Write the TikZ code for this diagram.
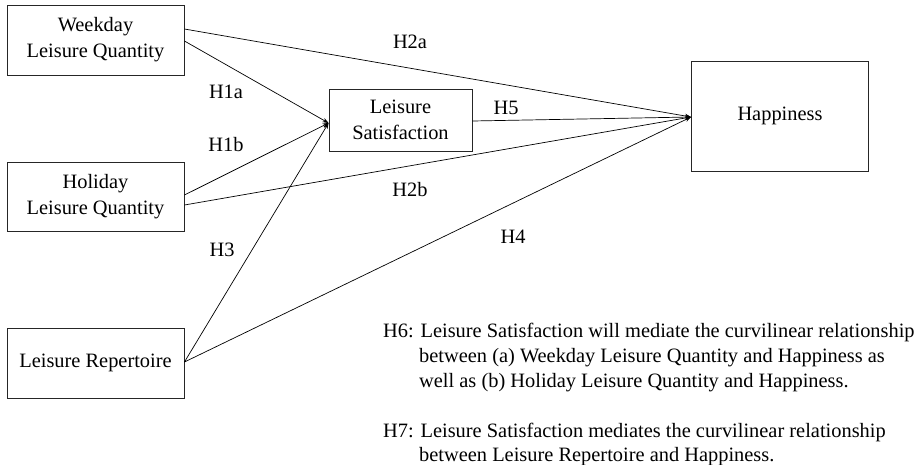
\documentclass[tikz,border=0pt]{standalone}
\usepackage{fontspec}
\setmainfont{Liberation Serif}
\usetikzlibrary{arrows.meta}
\begin{document}
\begin{tikzpicture}[x=1pt,y=-1pt,
  box/.style={draw=black!85,line width=0.9pt,align=center,inner sep=0pt,font=\fontsize{20.4}{26}\selectfont},
  link/.style={line width=0.7pt,-{Stealth[length=6pt,width=4.5pt]}},
  lab/.style={font=\fontsize{20.4}{24}\selectfont,inner sep=0pt},
  txt/.style={font=\fontsize{20.4}{24}\selectfont,inner sep=0pt,anchor=base west}]
\useasboundingbox (0,0) rectangle (924,464);
\node[box,minimum width=177pt,minimum height=70pt] (wk) at (95.5,40) {Weekday\\Leisure Quantity};
\node[box,minimum width=177pt,minimum height=69pt] (hol) at (95.5,196.5) {Holiday\\Leisure Quantity};
\node[box,minimum width=177pt,minimum height=70pt] (rep) at (95.5,363) {Leisure Repertoire};
\node[box,minimum width=143pt,minimum height=62pt] (ls) at (400.5,120) {Leisure\\Satisfaction};
\node[box,minimum width=177pt,minimum height=110pt] (hap) at (780,116) {Happiness};
\coordinate (lsin) at ([yshift=-3pt]ls.west);
\coordinate (hapin) at ([yshift=-1pt]hap.west);
\draw[link] ([yshift=11pt]wk.east) -- (hapin);
\draw[link] ([yshift=-1pt]wk.east) -- (lsin);
\draw[link] ([yshift=1.5pt]hol.east) -- (lsin);
\draw[link] ([yshift=-8.5pt]hol.east) -- (hapin);
\draw[link] ([yshift=1pt]rep.east) -- (lsin);
\draw[link] ([yshift=1pt]rep.east) -- (hapin);
\draw[link] ([yshift=-1pt]ls.east) -- (hapin);
\node[lab] (h2a) at (410,42) {H2a};
\node[lab] (h1a) at (226,92) {H1a};
\node[lab] (h1b) at (226,145) {H1b};
\node[lab] (h5) at (506,108) {H5};
\node[lab] (h2b) at (410,190) {H2b};
\node[lab] (h3) at (222,250) {H3};
\node[lab] (h4) at (513,237) {H4};
\node[txt] (h6a) at (383,337) {H6: Leisure Satisfaction will mediate the curvilinear relationship};
\node[txt] (h6b) at (419,362) {between (a) Weekday Leisure Quantity and Happiness as};
\node[txt] (h6c) at (419,387) {well as (b) Holiday Leisure Quantity and Happiness.};
\node[txt] (h7a) at (383,437) {H7: Leisure Satisfaction mediates the curvilinear relationship};
\node[txt] (h7b) at (419,461) {between Leisure Repertoire and Happiness.};
\end{tikzpicture}
\end{document}
